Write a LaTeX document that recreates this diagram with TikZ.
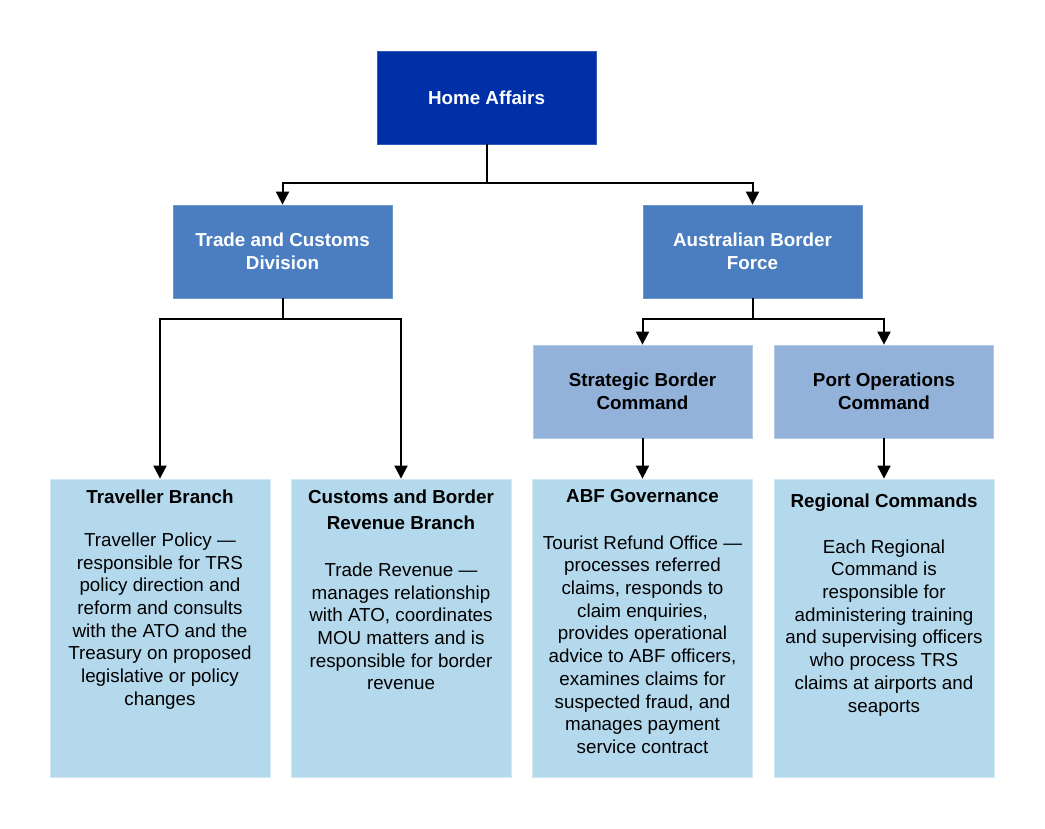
\documentclass[tikz,border=0pt]{standalone}
\usepackage{fontspec}
\setmainfont{Liberation Sans}
\usetikzlibrary{arrows.meta}
\definecolor{haBlue}{HTML}{0030A8}
\definecolor{divBlue}{HTML}{4A7EC0}
\definecolor{cmdBlue}{HTML}{92B2DA}
\definecolor{brLight}{HTML}{B4D8EC}
\begin{document}
\begin{tikzpicture}[x=1pt,y=-1pt,
    box/.style={rectangle, inner sep=0pt, minimum width=219pt, minimum height=93pt, align=center, line width=0.8pt, font=\fontsize{18.8}{22.7}\selectfont\bfseries},
    leaf/.style={box, minimum width=220pt, minimum height=298pt, fill=brLight, draw=brLight!60!white},
    txt/.style={anchor=north, inner sep=0pt, align=center, font=\fontsize{18.8}{22.7}\selectfont},
    ttl/.style={txt, font=\fontsize{18.8}{26}\selectfont\bfseries},
    link/.style={line width=2pt},
    arr/.style={link, -{Triangle[width=13pt,length=13pt]}}]
    \useasboundingbox (0,0) rectangle (1045,828);
    % boxes
    \node[box, fill=haBlue, draw=haBlue!80!white, text=white] (ha) at (486.5,97.5) {Home Affairs};
    \node[box, fill=divBlue, draw=divBlue!80!white, text=white] (tcd) at (282.5,251.5) {Trade and Customs\\Division};
    \node[box, fill=divBlue, draw=divBlue!80!white, text=white] (abf) at (752.5,251.5) {Australian Border\\Force};
    \node[box, fill=cmdBlue, draw=cmdBlue!70!white] (sbc) at (642.5,391.5) {Strategic Border\\Command};
    \node[box, fill=cmdBlue, draw=cmdBlue!70!white] (poc) at (884,391.5) {Port Operations\\Command};
    \node[leaf] (trb) at (160,628) {};
    \node[leaf] (cbr) at (401,628) {};
    \node[leaf] (abfg) at (642.5,628) {};
    \node[leaf] (rc) at (884,628) {};
    % texts of the branches
    \node[ttl] (trbT) at ([yshift=-11pt]trb.north) {Traveller Branch};
    \node[txt] (trbB) at ([yshift=-54pt]trb.north) {Traveller Policy —\\responsible for TRS\\policy direction and\\reform and consults\\with the ATO and the\\Treasury on proposed\\legislative or policy\\changes};
    \node[ttl] (cbrT) at ([yshift=-11pt]cbr.north) {Customs and Border\\Revenue Branch};
    \node[txt] (cbrB) at ([yshift=-84pt]cbr.north) {Trade Revenue —\\manages relationship\\with ATO, coordinates\\MOU matters and is\\responsible for border\\revenue};
    \node[ttl] (abfgT) at ([yshift=-11pt]abfg.north) {ABF Governance};
    \node[txt] (abfgB) at ([yshift=-56.7pt]abfg.north) {Tourist Refund Office —\\processes referred\\claims, responds to\\claim enquiries,\\provides operational\\advice to ABF officers,\\examines claims for\\suspected fraud, and\\manages payment\\service contract};
    \node[ttl] (rcT) at ([yshift=-14.7pt]rc.north) {Regional Commands};
    \node[txt] (rcB) at ([yshift=-60.7pt]rc.north) {Each Regional\\Command is\\responsible for\\administering training\\and supervising officers\\who process TRS\\claims at airports and\\seaports};
    % connectors
    \coordinate (haJ) at (486.5,183);
    \coordinate (tcdJ) at (282.5,319);
    \coordinate (abfJ) at (752.5,319);
    \draw[arr] (ha) -- (haJ) -| (tcd);
    \draw[arr] (haJ) -| (abf);
    \draw[link] (tcd) -- (tcdJ);
    \draw[arr] (tcdJ) -| (trb);
    \draw[arr] (tcdJ) -| (cbr);
    \draw[link] (abf) -- (abfJ);
    \draw[arr] (abfJ) -| (sbc);
    \draw[arr] (abfJ) -| (poc);
    \draw[arr] (sbc) -- (abfg);
    \draw[arr] (poc) -- (rc);
\end{tikzpicture}
\end{document}
